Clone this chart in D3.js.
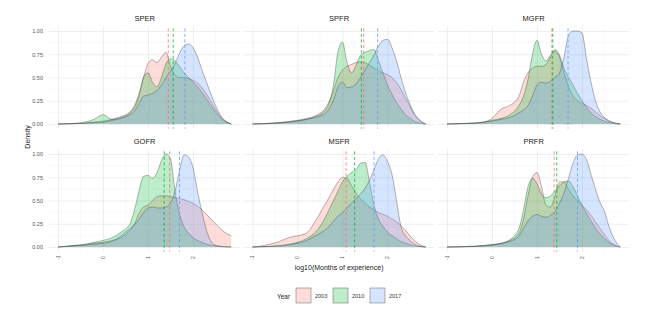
<!DOCTYPE html>
<html>
<head>
<meta charset="utf-8">
<script src="https://cdn.jsdelivr.net/npm/d3@7"></script>
<style>
    body { margin: 0; background: #fff; }
    #chart { width: 650px; height: 311px; }
    text { font-family: "Liberation Sans", Arial, sans-serif; }
</style>
</head>
<body>
<div id="chart"></div>
<script>

// shared x grid (log10 months) for every density curve
const xGrid = [-1, -0.7, -0.4, -0.2, 0, 0.2, 0.4, 0.6, 0.7, 0.8, 0.9, 1.0, 1.1, 1.2, 1.3, 1.4,
    1.5, 1.6, 1.7, 1.8, 1.9, 2.0, 2.1, 2.2, 2.3, 2.4, 2.5, 2.6, 2.7, 2.85];

const years = ["2003", "2010", "2017"];
const panels = ["SPER", "SPFR", "MGFR", "GOFR", "MSFR", "PRFR"];
const xTicks = [-1, 0, 1, 2];
const yTicks = [0, 0.25, 0.5, 0.75, 1];

// scaled densities
const sper2003 = [0, 0.005, 0.01, 0.02, 0.03, 0.05, 0.08, 0.13, 0.2, 0.33, 0.5, 0.65, 0.69, 0.66, 0.72, 0.77, 0.62, 0.53, 0.5, 0.5, 0.49, 0.47, 0.44, 0.39, 0.32, 0.24, 0.16, 0.09, 0.04, 0];
const sper2010 = [0, 0.005, 0.02, 0.05, 0.1, 0.05, 0.07, 0.12, 0.18, 0.3, 0.5, 0.55, 0.45, 0.4, 0.5, 0.65, 0.7, 0.68, 0.62, 0.55, 0.5, 0.45, 0.4, 0.34, 0.27, 0.2, 0.13, 0.07, 0.03, 0];
const sper2017 = [0, 0.003, 0.008, 0.015, 0.02, 0.04, 0.06, 0.1, 0.14, 0.22, 0.3, 0.31, 0.33, 0.36, 0.42, 0.5, 0.57, 0.65, 0.76, 0.84, 0.86, 0.82, 0.72, 0.58, 0.45, 0.32, 0.2, 0.1, 0.04, 0];

const spfr2003 = [0, 0.005, 0.015, 0.025, 0.04, 0.06, 0.09, 0.16, 0.24, 0.36, 0.5, 0.58, 0.62, 0.64, 0.66, 0.67, 0.66, 0.63, 0.6, 0.57, 0.55, 0.53, 0.5, 0.45, 0.37, 0.28, 0.19, 0.1, 0.04, 0];
const spfr2010 = [0, 0.005, 0.015, 0.025, 0.035, 0.05, 0.08, 0.14, 0.22, 0.42, 0.78, 0.88, 0.66, 0.55, 0.63, 0.74, 0.77, 0.79, 0.8, 0.68, 0.55, 0.42, 0.32, 0.23, 0.16, 0.1, 0.06, 0.03, 0.01, 0];
const spfr2017 = [0, 0.003, 0.01, 0.02, 0.03, 0.05, 0.07, 0.11, 0.16, 0.26, 0.4, 0.45, 0.39, 0.4, 0.43, 0.5, 0.58, 0.66, 0.74, 0.84, 0.9, 0.91, 0.82, 0.68, 0.5, 0.34, 0.21, 0.11, 0.05, 0];

const mgfr2003 = [0, 0.005, 0.01, 0.02, 0.06, 0.16, 0.2, 0.3, 0.45, 0.55, 0.6, 0.62, 0.62, 0.64, 0.72, 0.78, 0.72, 0.55, 0.4, 0.3, 0.25, 0.22, 0.2, 0.17, 0.13, 0.09, 0.06, 0.03, 0.015, 0];
const mgfr2010 = [0, 0.005, 0.01, 0.02, 0.04, 0.06, 0.1, 0.2, 0.3, 0.48, 0.75, 0.9, 0.75, 0.68, 0.74, 0.8, 0.74, 0.6, 0.5, 0.42, 0.33, 0.25, 0.18, 0.12, 0.08, 0.05, 0.03, 0.015, 0.005, 0];
const mgfr2017 = [0, 0.003, 0.008, 0.015, 0.03, 0.05, 0.07, 0.12, 0.15, 0.2, 0.3, 0.42, 0.45, 0.44, 0.46, 0.5, 0.55, 0.72, 0.95, 1.0, 1.0, 0.98, 0.7, 0.45, 0.25, 0.13, 0.07, 0.035, 0.015, 0];

const gofr2003 = [0, 0.01, 0.025, 0.04, 0.05, 0.07, 0.1, 0.18, 0.25, 0.36, 0.43, 0.45, 0.5, 0.54, 0.55, 0.55, 0.54, 0.53, 0.52, 0.51, 0.49, 0.47, 0.44, 0.4, 0.35, 0.3, 0.25, 0.2, 0.16, 0.12];
const gofr2010 = [0, 0.015, 0.03, 0.05, 0.07, 0.1, 0.16, 0.25, 0.4, 0.6, 0.76, 0.77, 0.74, 0.8, 0.93, 1.0, 0.95, 0.6, 0.35, 0.22, 0.15, 0.1, 0.07, 0.05, 0.03, 0.02, 0.01, 0.005, 0.002, 0];
const gofr2017 = [0, 0.01, 0.02, 0.03, 0.04, 0.06, 0.12, 0.2, 0.24, 0.3, 0.37, 0.42, 0.43, 0.42, 0.42, 0.43, 0.47, 0.6, 0.82, 0.99, 0.97, 0.85, 0.6, 0.37, 0.18, 0.06, 0.02, 0.01, 0.003, 0];

const msfr2003 = [0, 0.02, 0.06, 0.1, 0.12, 0.15, 0.28, 0.45, 0.53, 0.62, 0.7, 0.75, 0.74, 0.66, 0.58, 0.52, 0.47, 0.43, 0.4, 0.37, 0.35, 0.33, 0.3, 0.27, 0.23, 0.18, 0.12, 0.07, 0.03, 0];
const msfr2010 = [0, 0.005, 0.015, 0.03, 0.05, 0.09, 0.16, 0.3, 0.4, 0.5, 0.6, 0.7, 0.76, 0.8, 0.83, 0.9, 0.91, 0.7, 0.45, 0.3, 0.22, 0.16, 0.12, 0.09, 0.06, 0.04, 0.025, 0.012, 0.005, 0];
const msfr2017 = [0, 0.004, 0.01, 0.02, 0.04, 0.07, 0.12, 0.18, 0.22, 0.28, 0.33, 0.37, 0.42, 0.47, 0.52, 0.57, 0.63, 0.72, 0.83, 0.95, 0.99, 0.92, 0.78, 0.5, 0.22, 0.12, 0.07, 0.03, 0.01, 0];

const prfr2003 = [0, 0.003, 0.008, 0.015, 0.025, 0.04, 0.07, 0.15, 0.3, 0.55, 0.75, 0.8, 0.65, 0.45, 0.43, 0.55, 0.7, 0.7, 0.62, 0.55, 0.5, 0.45, 0.4, 0.34, 0.27, 0.2, 0.13, 0.07, 0.03, 0];
const prfr2010 = [0, 0.003, 0.008, 0.015, 0.025, 0.04, 0.08, 0.2, 0.4, 0.65, 0.74, 0.68, 0.57, 0.53, 0.55, 0.6, 0.66, 0.7, 0.71, 0.65, 0.55, 0.45, 0.36, 0.28, 0.2, 0.14, 0.09, 0.05, 0.02, 0];
const prfr2017 = [0, 0.002, 0.005, 0.01, 0.02, 0.035, 0.06, 0.12, 0.2, 0.28, 0.33, 0.35, 0.33, 0.32, 0.34, 0.38, 0.47, 0.58, 0.74, 0.9, 0.99, 1.0, 0.94, 0.78, 0.62, 0.48, 0.38, 0.22, 0.1, 0];

// dashed lines (2003, 2010, 2017)
const sperMedians = [1.45, 1.56, 1.82];
const spfrMedians = [1.47, 1.42, 1.78];
const mgfrMedians = [1.33, 1.35, 1.69];
const gofrMedians = [1.48, 1.36, 1.70];
const msfrMedians = [1.08, 1.27, 1.70];
const prfrMedians = [1.38, 1.44, 1.90];


class DensityFacets {

    constructor(parentElement) {
        this.parentElement = parentElement;
        this.curves = {
            SPER: [sper2003, sper2010, sper2017],
            SPFR: [spfr2003, spfr2010, spfr2017],
            MGFR: [mgfr2003, mgfr2010, mgfr2017],
            GOFR: [gofr2003, gofr2010, gofr2017],
            MSFR: [msfr2003, msfr2010, msfr2017],
            PRFR: [prfr2003, prfr2010, prfr2017]
        };
        this.medians = {SPER: sperMedians, SPFR: spfrMedians, MGFR: mgfrMedians,
            GOFR: gofrMedians, MSFR: msfrMedians, PRFR: prfrMedians};
        this.initVis();
    }

    initVis() {
        let vis = this;

        vis.panelW = 191.25;
        vis.panelH = 102.3;
        vis.colStep = 194.5;
        vis.rowStep = 123;
        vis.left = 49;
        vis.top = 26.35;

        vis.svg = d3.select("#" + vis.parentElement).append("svg")
            .attr("width", 650)
            .attr("height", 311);

        vis.x = d3.scaleLinear().domain([-1.2, 3.05]).range([0, vis.panelW]);
        vis.y = d3.scaleLinear().domain([-0.05, 1.05]).range([vis.panelH, 0]);

        vis.color = d3.scaleOrdinal()
            .domain(years)
            .range(["#F8766D", "#00BA38", "#619CFF"]);

        vis.area = d3.area()
            .x(d => vis.x(d[0]))
            .y0(vis.y(0))
            .y1(d => vis.y(d[1]))
            .curve(d3.curveMonotoneX);
        vis.line = d3.line()
            .x(d => vis.x(d[0]))
            .y(d => vis.y(d[1]))
            .curve(d3.curveMonotoneX);

        panels.forEach((p, i) => vis.drawPanel(p, i % 3, Math.floor(i / 3)));

        // axis titles
        vis.svg.append("text")
            .attr("x", vis.left + vis.colStep + vis.panelW / 2)
            .attr("y", 269.5)
            .attr("text-anchor", "middle")
            .attr("font-size", "7px")
            .attr("fill", "#222")
            .text("log10(Months of experience)");
        vis.svg.append("text")
            .attr("transform", "translate(30, 137) rotate(-90)")
            .attr("text-anchor", "middle")
            .attr("font-size", "7px")
            .attr("fill", "#222")
            .text("Density");

        vis.drawLegend();
    }

    drawPanel(name, col, row) {
        let vis = this;
        let g = vis.svg.append("g")
            .attr("transform", `translate(${vis.left + col * vis.colStep}, ${vis.top + row * vis.rowStep})`);

        // minor grid
        let minorX = [-0.5, 0.5, 1.5, 2.5];
        let minorY = [0.125, 0.375, 0.625, 0.875];
        g.selectAll(".minor-x").data(minorX).enter().append("line")
            .attr("x1", d => vis.x(d)).attr("x2", d => vis.x(d))
            .attr("y1", 0).attr("y2", vis.panelH)
            .attr("stroke", "#f2f2f2").attr("stroke-width", 0.5);
        g.selectAll(".minor-y").data(minorY).enter().append("line")
            .attr("y1", d => vis.y(d)).attr("y2", d => vis.y(d))
            .attr("x1", 0).attr("x2", vis.panelW)
            .attr("stroke", "#f2f2f2").attr("stroke-width", 0.5);

        // major grid via axes
        g.append("g")
            .attr("class", "grid")
            .call(d3.axisBottom(vis.x).tickValues(xTicks).tickSize(vis.panelH).tickFormat(""))
            .call(s => s.select(".domain").remove())
            .call(s => s.selectAll("line").attr("stroke", "#e6e6e6").attr("stroke-width", 0.7));
        g.append("g")
            .attr("class", "grid")
            .call(d3.axisLeft(vis.y).tickValues(yTicks).tickSize(-vis.panelW).tickFormat(""))
            .call(s => s.select(".domain").remove())
            .call(s => s.selectAll("line").attr("stroke", "#e6e6e6").attr("stroke-width", 0.7));

        // densities
        vis.curves[name].forEach((vals, i) => {
            let pts = xGrid.map((xv, j) => [xv, vals[j]]);
            g.append("path")
                .attr("d", vis.area(pts))
                .attr("fill", vis.color(years[i]))
                .attr("fill-opacity", 0.26);
            g.append("path")
                .attr("d", vis.line(pts))
                .attr("fill", "none")
                .attr("stroke", "#3a3a3a")
                .attr("stroke-opacity", 0.75)
                .attr("stroke-width", 0.5);
        });

        // dashed median lines
        g.selectAll(".med").data(vis.medians[name]).enter().append("line")
            .attr("x1", d => vis.x(d)).attr("x2", d => vis.x(d))
            .attr("y1", 2).attr("y2", vis.panelH)
            .attr("stroke", (d, i) => vis.color(years[i]))
            .attr("stroke-opacity", 0.9)
            .attr("stroke-width", 0.9)
            .attr("stroke-dasharray", "3,2.5");

        // strip title
        g.append("text")
            .attr("x", vis.panelW / 2)
            .attr("y", -5)
            .attr("text-anchor", "middle")
            .attr("font-size", "7.5px")
            .attr("fill", "#222")
            .text(name);

        // y tick labels, left column only
        if (col === 0) {
            g.append("g")
                .call(d3.axisLeft(vis.y).tickValues(yTicks).tickSize(0).tickPadding(6).tickFormat(d3.format(".2f")))
                .call(s => s.select(".domain").remove())
                .call(s => s.selectAll("text").attr("font-size", "5.5px").attr("fill", "#555")
                    .attr("font-family", "Liberation Sans, Arial, sans-serif"));
        }

        // x tick labels, bottom row only (rotated)
        if (row === 1) {
            g.selectAll(".xlab").data(xTicks).enter().append("text")
                .attr("transform", d => `translate(${vis.x(d) + 1.8}, ${vis.panelH + 6}) rotate(-90)`)
                .attr("text-anchor", "middle")
                .attr("font-size", "5px")
                .attr("fill", "#555")
                .text(d => d);
        }
    }

    drawLegend() {
        let vis = this;
        let lg = vis.svg.append("g");
        lg.append("text")
            .attr("x", 277).attr("y", 298.5)
            .attr("font-size", "6.5px")
            .attr("fill", "#222")
            .text("Year");

        let keyX = [296, 333, 370];
        years.forEach((yr, i) => {
            lg.append("rect")
                .attr("x", keyX[i]).attr("y", 288)
                .attr("width", 15).attr("height", 15)
                .attr("fill", vis.color(yr))
                .attr("fill-opacity", 0.26)
                .attr("stroke", "#666")
                .attr("stroke-width", 0.5);
            lg.append("text")
                .attr("x", keyX[i] + 19).attr("y", 298)
                .attr("font-size", "5.5px")
                .attr("fill", "#333")
                .text(yr);
        });
    }
}

new DensityFacets("chart");

</script>
</body>
</html>
